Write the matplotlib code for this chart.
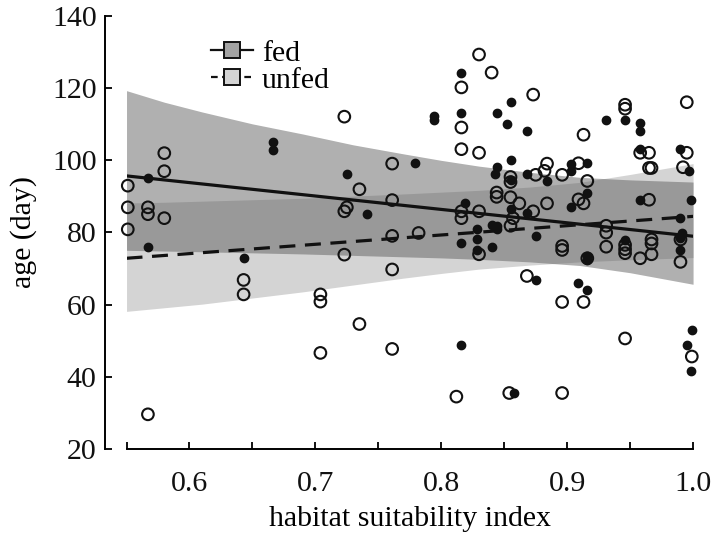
import numpy as np
import matplotlib
matplotlib.use("Agg")
import matplotlib.pyplot as plt
from matplotlib.lines import Line2D

plt.rcParams['font.family'] = ['Liberation Serif', 'DejaVu Serif']

# fed (filled dots)
fed_x = [0.567, 0.567, 0.643, 0.666, 0.666, 0.725, 0.741, 0.779, 0.794, 0.794,
         0.816, 0.816, 0.819, 0.816, 0.816, 0.828, 0.828, 0.828, 0.840, 0.840,
         0.844, 0.844, 0.844, 0.844, 0.843, 0.852, 0.855, 0.855, 0.855, 0.855,
         0.858, 0.868, 0.868, 0.868, 0.875, 0.875, 0.884, 0.903, 0.903, 0.903,
         0.909, 0.916, 0.916, 0.916, 0.916, 0.916, 0.931, 0.946, 0.946, 0.958,
         0.958, 0.958, 0.958, 0.990, 0.997, 0.998, 0.990, 0.991, 0.990, 0.990,
         0.999, 0.995, 0.998]
fed_y = [95.0, 76.0, 72.8, 105.1, 102.9, 96.1, 85.0, 99.1, 112.2, 111.0,
         124.2, 113.1, 88.1, 77.0, 48.7, 80.8, 78.1, 75.1, 76.0, 82.0,
         81.8, 80.8, 113.1, 98.2, 96.1, 110.1, 116.1, 100.1, 94.5, 86.3,
         35.6, 108.1, 96.1, 85.3, 79.0, 66.9, 94.2, 98.9, 97.0, 87.0,
         66.0, 99.1, 91.0, 73.4, 72.4, 63.9, 111.1, 111.2, 77.8, 110.2,
         108.1, 103.1, 89.0, 103.1, 97.0, 89.0, 84.0, 79.9, 78.5, 75.0,
         52.9, 48.8, 41.7]

# unfed (open circles)
unfed_x = [0.551, 0.551, 0.551, 0.567, 0.567, 0.567, 0.580, 0.580, 0.580, 0.643,
           0.643, 0.704, 0.704, 0.704, 0.723, 0.723, 0.725, 0.723, 0.735, 0.735,
           0.761, 0.761, 0.761, 0.761, 0.761, 0.782, 0.812, 0.816, 0.816, 0.816,
           0.816, 0.816, 0.830, 0.830, 0.830, 0.830, 0.840, 0.844, 0.844, 0.855,
           0.855, 0.855, 0.855, 0.854, 0.857, 0.862, 0.868, 0.873, 0.873, 0.875,
           0.882, 0.884, 0.884, 0.896, 0.896, 0.896, 0.896, 0.896, 0.909, 0.909,
           0.913, 0.913, 0.913, 0.916, 0.916, 0.931, 0.931, 0.931, 0.946, 0.946,
           0.946, 0.946, 0.946, 0.946, 0.958, 0.958, 0.965, 0.965, 0.967, 0.965,
           0.967, 0.967, 0.967, 0.990, 0.990, 0.992, 0.995, 0.995, 0.999]
unfed_y = [92.9, 86.9, 80.8, 86.9, 85.0, 29.6, 101.9, 96.9, 83.9, 66.8,
           62.8, 62.8, 60.8, 46.6, 112.0, 85.8, 86.9, 73.8, 91.9, 54.6,
           99.0, 88.9, 79.0, 69.7, 47.7, 79.8, 34.5, 120.1, 109.0, 103.0,
           85.8, 83.9, 129.2, 102.0, 85.8, 73.9, 124.2, 91.0, 89.8, 95.3,
           93.9, 89.7, 81.8, 35.5, 83.9, 88.0, 67.9, 118.1, 85.8, 95.9,
           97.0, 99.0, 88.0, 95.9, 76.2, 75.1, 60.7, 35.5, 99.1, 89.1,
           107.0, 88.0, 60.7, 94.2, 72.8, 81.8, 79.9, 76.0, 115.3, 114.2,
           76.5, 75.3, 74.2, 50.6, 102.0, 72.8, 102.0, 97.8, 97.8, 89.0,
           78.0, 76.9, 73.9, 78.0, 71.8, 98.0, 102.0, 116.0, 45.6]

# fitted lines and confidence bands
line_x = [0.55, 1.0]
fed_line = [95.6, 78.9]
unfed_line = [72.8, 84.4]

band_x = [0.55, 0.58, 0.61, 0.65, 0.69, 0.73, 0.77, 0.80, 0.83, 0.87, 0.91, 0.95, 1.0]
fed_hi = [119.2, 116.0, 113.3, 110.0, 107.2, 104.2, 101.7, 99.9, 98.3, 96.6, 95.2, 94.5, 93.9]
fed_lo = [75.0, 74.8, 74.6, 74.3, 74.0, 73.6, 73.2, 72.9, 72.5, 71.8, 70.8, 68.8, 65.6]
unfed_hi = [88.1, 88.3, 88.6, 89.0, 89.4, 90.0, 90.6, 91.1, 91.6, 92.5, 93.8, 96.0, 99.0]
unfed_lo = [58.1, 59.1, 60.1, 61.8, 63.5, 65.4, 67.3, 68.6, 69.8, 70.9, 71.8, 72.4, 73.0]

fig = plt.figure(figsize=(7.12, 5.33), dpi=100)
ax = fig.add_axes([0.1777, 0.1576, 0.7957, 0.8133])

ax.fill_between(band_x, unfed_lo, unfed_hi, color='#d4d4d4', lw=0, zorder=1)
ax.fill_between(band_x, fed_lo, fed_hi, color='#575757', alpha=0.47, lw=0, zorder=1)

ax.scatter(unfed_x, unfed_y, s=70, facecolors='none', edgecolors='#111111',
           linewidths=1.5, zorder=2, clip_on=False)
ax.scatter(fed_x, fed_y, s=36, color='#111111', zorder=3, clip_on=False)

ax.plot(line_x, fed_line, color='#111111', lw=2.3, zorder=4)
ax.plot(line_x, unfed_line, color='#111111', lw=2.3, ls=(0, (5, 3)), zorder=4)

ax.set_xlim(0.55, 1.0)
ax.set_ylim(20, 140)
ax.set_xticks(np.arange(0.55, 1.001, 0.05))
ax.set_xticklabels(['', '0.6', '', '0.7', '', '0.8', '', '0.9', '', '1.0'])
ax.set_yticks(range(20, 141, 20))

for s in ['top', 'right']:
    ax.spines[s].set_visible(False)
ax.spines['left'].set_position(('outward', 15.5))
ax.spines['left'].set_linewidth(1.4)
ax.spines['bottom'].set_linewidth(1.4)
ax.tick_params(direction='in', length=5, width=1.4, labelsize=21.5,
               colors='#111111')
ax.tick_params(axis='y', pad=6)
ax.tick_params(axis='x', pad=16)

ax.set_xlabel('habitat suitability index', fontsize=21.5, labelpad=6)
ax.set_ylabel('age (day)', fontsize=21.5, labelpad=11)

h_fed = Line2D([], [], color='#111111', lw=1.6, marker='s', markersize=12,
               markerfacecolor='#a3a3a3', markeredgecolor='#111111', markeredgewidth=1.4)
h_unfed = Line2D([], [], color='#111111', lw=1.6, ls=(0, (3, 2)), marker='s',
                 markersize=12, markerfacecolor='#d4d4d4', markeredgecolor='#111111',
                 markeredgewidth=1.4)
ax.legend([h_fed, h_unfed], ['fed', 'unfed'], loc='upper left',
          bbox_to_anchor=(211 / 712, 1 - 40 / 533), bbox_transform=fig.transFigure,
          frameon=False, fontsize=21.5, handlelength=1.4, handletextpad=0.3,
          labelspacing=0.0, borderpad=0, borderaxespad=0, numpoints=1)

fig.savefig('out.png', dpi=100)
